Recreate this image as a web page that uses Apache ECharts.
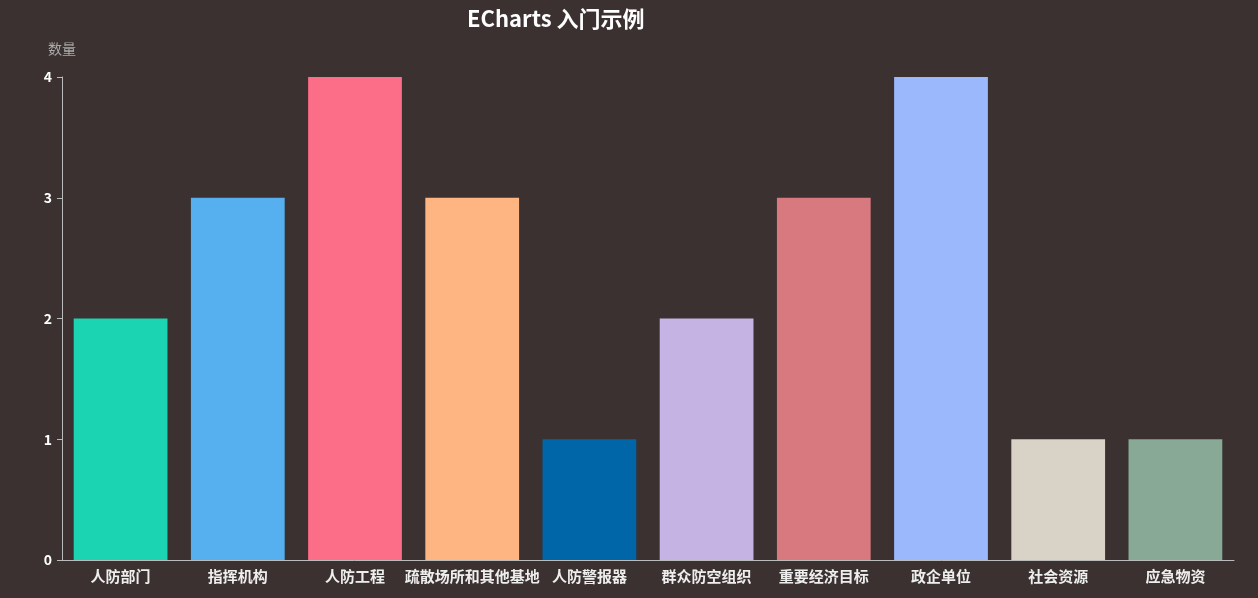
<!DOCTYPE html>
<html><head><meta charset="utf-8">
<script src="https://cdn.jsdelivr.net/npm/echarts@6/dist/echarts.min.js"></script>
<style>html,body{margin:0;padding:0;background:#3a3130;}#c{width:1258px;height:598px;}</style>
</head><body><div id="c"></div>
<script>
const categories = ['人防部门','指挥机构','人防工程','疏散场所和其他基地','人防警报器','群众防空组织','重要经济目标','政企单位','社会资源','应急物资'];
const values = [2,3,4,3,1,2,3,4,1,1];
const colors = ['#1bd4b1','#56b0ef','#fc6d87','#ffb582','#0066a8','#c5b3e3','#d8797f','#9bb8fd','#d9d2c7','#87a996'];
const yTicks = [0,1,2,3,4];

const chart = echarts.init(document.getElementById('c'));
const font = '"Noto Sans CJK SC","Noto Sans",sans-serif';
chart.setOption({
  backgroundColor:'#3a3130',
  animation:false,
  title:{text:'ECharts 入门示例',left:462,top:3,textStyle:{color:'#fff',fontSize:22,fontWeight:'bold',fontFamily:font}},
  grid:{left:62,right:24,top:77,bottom:38,containLabel:false},
  xAxis:{type:'category',data:categories,
    axisLine:{lineStyle:{color:'#bbb'}},axisTick:{lineStyle:{color:'#bbb'}},
    axisLabel:{color:'#eee',fontSize:15,fontWeight:'bold',fontFamily:font,interval:0,margin:9}},
  yAxis:{type:'value',name:'数量',min:yTicks[0],max:yTicks[yTicks.length-1],interval:1,
    nameTextStyle:{color:'#aaa',fontSize:14,fontFamily:font,padding:[0,0,6,0]},
    axisLine:{show:true,lineStyle:{color:'#bbb'}},axisTick:{show:true,lineStyle:{color:'#bbb'}},
    splitLine:{show:false},
    axisLabel:{color:'#fff',fontSize:14,fontWeight:'bold',fontFamily:font,margin:10}},
  series:[{type:'bar',barWidth:'80%',
    data:values.map((v,i)=>({value:v,itemStyle:{color:colors[i]}}))}]
});
</script></body></html>
